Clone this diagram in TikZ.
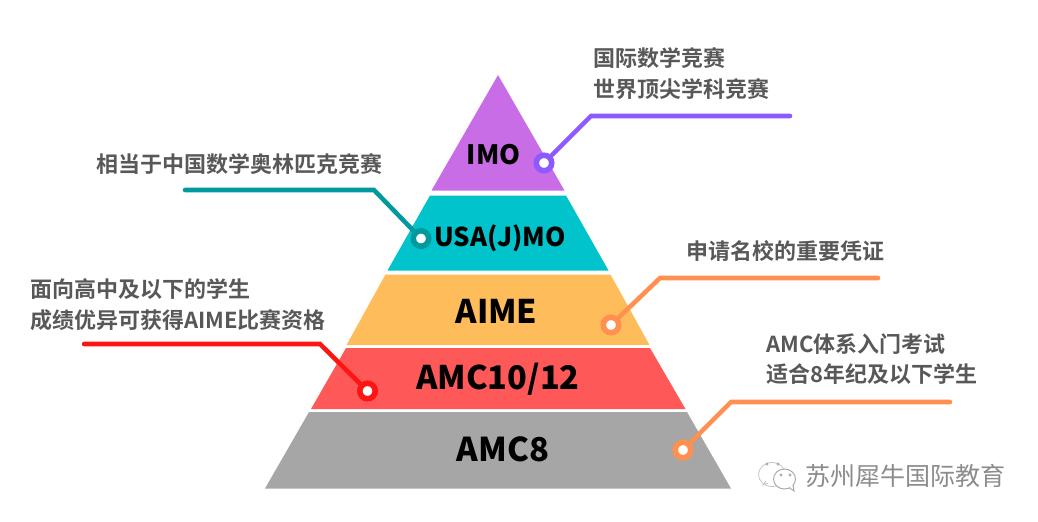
\documentclass[tikz,border=0pt]{standalone}
\usepackage{fontspec}
\setmainfont{Noto Sans CJK SC}[BoldFont={Noto Sans CJK SC Bold}]
\newfontfamily\heavycjk{Noto Sans CJK SC Black}
\newfontfamily\lightcjk{Noto Sans CJK SC}
\definecolor{cimo}{HTML}{C86DE6}
\definecolor{cusa}{HTML}{00C3CB}
\definecolor{caime}{HTML}{FFBC5A}
\definecolor{camct}{HTML}{FF5858}
\definecolor{cgray}{HTML}{A6A6A6}
\definecolor{lpurple}{HTML}{8C5AFF}
\definecolor{lteal}{HTML}{009A9E}
\definecolor{lorange}{HTML}{FF9050}
\definecolor{lred}{HTML}{FF1414}
\definecolor{ltext}{HTML}{585858}
\tikzset{
  lvl/.style={font=\heavycjk\fontsize{#1}{#1}\selectfont,text=black,inner sep=0pt,anchor=center},
  note/.style={font=\bfseries\fontsize{16.5}{23}\selectfont,text=ltext,inner sep=0pt,anchor=west,align=left},
  lead/.style={line width=3.4pt,line join=miter,line cap=round},
  dot/.style={circle,draw=#1,fill=white,line width=4.2pt,minimum size=11.6pt,inner sep=0pt},
}
\begin{document}
\begin{tikzpicture}[x=0.75pt,y=-0.75pt]
\useasboundingbox (0,0) rectangle (1038,521);
% pyramid
\fill[cimo]  (498,75) -- (564.5,190.5) -- (431.5,190.5) -- cycle;
\fill[cusa]  (430,195.5) -- (566,195.5) -- (608.5,270.5) -- (387.5,270.5) -- cycle;
\fill[caime] (385.5,274.5) -- (610.5,274.5) -- (649.5,345) -- (346.5,345) -- cycle;
\fill[camct] (346,348) -- (650,348) -- (685.5,409) -- (311,409) -- cycle;
\fill[cgray] (309,412) -- (687,412) -- (731,488.5) -- (265,488.5) -- cycle;
% level labels
\node[lvl=20] (imo) at (493.5,155) {IMO};
\node[lvl=19.4] (usa) at (500,238) {USA(J)MO};
\node[lvl=24.4] (aime) at (496.5,311) {AIME};
\node[lvl=24.4] (amct) at (498,379) {AMC10/12};
\node[lvl=24.6] (amce) at (503,449.5) {AMC8};
% connector ends
\coordinate (p1) at (790,116);
\coordinate (b1) at (591,116);
\coordinate (p2) at (185,190);
\coordinate (b2) at (374,190);
\coordinate (p3) at (878,278);
\coordinate (b3) at (660,278);
\coordinate (p4) at (84,344);
\coordinate (b4) at (320,344);
\coordinate (p5) at (950,402);
\coordinate (b5) at (731,402);
% dots
\node[dot=lpurple] (d1) at (544,163) {};
\node[dot=lteal]   (d2) at (421,238.5) {};
\node[dot=lorange] (d3) at (611,325) {};
\node[dot=lred]    (d4) at (367.5,391) {};
\node[dot=lorange] (d5) at (683,450) {};
% connectors
\draw[lead,lpurple] (p1) -- (b1) -- (d1);
\draw[lead,lteal]   (p2) -- (b2) -- (d2);
\draw[lead,lorange] (p3) -- (b3) -- (d3);
\draw[lead,lred]    (p4) -- (b4) -- (d4);
\draw[lead,lorange] (p5) -- (b5) -- (d5);
% notes
\node[note] (n1) at (593,73.5) {国际数学竞赛\\世界顶尖学科竞赛};
\node[note] (n2) at (96,164) {相当于中国数学奥林匹克竞赛};
\node[note] (n3) at (686,251.5) {申请名校的重要凭证};
\node[note] (n4) at (30,305) {面向高中及以下的学生\\成绩优异可获得AIME比赛资格};
\node[note] (n5) at (766,359) {AMC体系入门考试\\适合8年纪及以下学生};
% watermark
\node[font=\lightcjk\fontsize{18.8}{18.8}\selectfont,text=gray!90,inner sep=0pt,anchor=west] (wm) at (805,476) {苏州犀牛国际教育};
% wechat icon
\draw[gray!45,line width=0.6pt,fill=white] (772,474.5) ellipse [x radius=13.5,y radius=12];
\draw[gray!45,line width=0.6pt,fill=white] (768,483) -- (763,485) -- (766,481);
\draw[gray!70,line width=0.7pt,fill=white] (784.5,479) ellipse [x radius=11,y radius=10];
\draw[gray!70,line width=0.7pt,fill=white] (789,487.5) -- (794,491) -- (793,485);
\foreach \a/\b in {767/464,778/464,781/475,790/475}
  \draw[gray!70,line width=0.5pt] (\a,\b) circle [radius=1.2];
\end{tikzpicture}
\end{document}
